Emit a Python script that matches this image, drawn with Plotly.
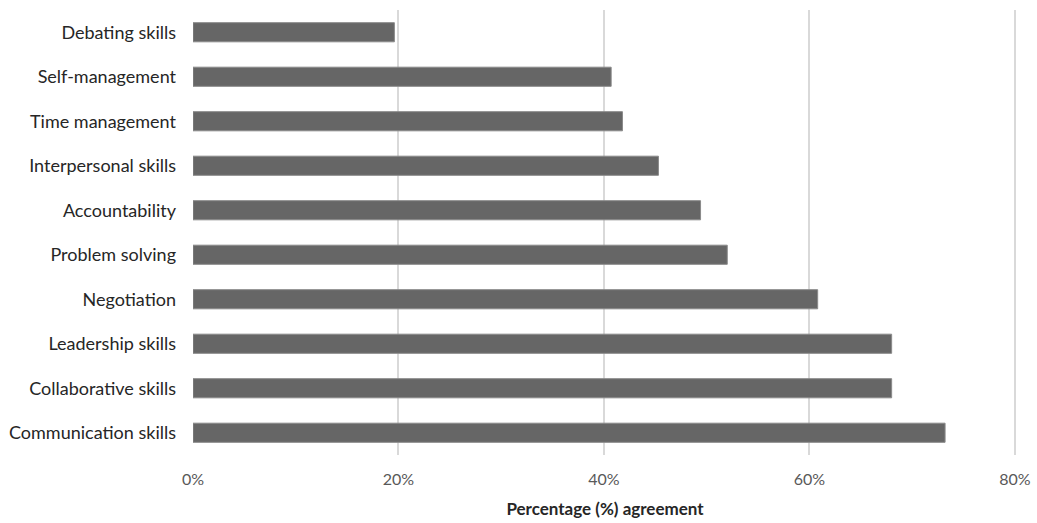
import plotly.graph_objects as go

categories = ["Communication skills", "Collaborative skills", "Leadership skills", "Negotiation",
              "Problem solving", "Accountability", "Interpersonal skills", "Time management",
              "Self-management", "Debating skills"]
values = [73.2, 68.0, 68.0, 60.8, 52.0, 49.4, 45.3, 41.8, 40.7, 19.6]
tick_vals = [0, 20, 40, 60, 80]
tick_text = ["0%", "20%", "40%", "60%", "80%"]

fig = go.Figure(go.Bar(
    x=values, y=categories, orientation="h",
    marker=dict(color="#666666", line=dict(color="#8a8a8a", width=1)),
    width=0.43,
))

fig.update_layout(
    width=1037, height=523,
    margin=dict(l=193, r=20, t=10, b=68),
    plot_bgcolor="white", paper_bgcolor="white",
    font=dict(family="Lato, Open Sans, sans-serif", size=18, color="#262626"),
    showlegend=False,
    bargap=0.57,
)
fig.update_xaxes(
    range=[0, 80.2], tickvals=tick_vals, ticktext=tick_text,
    showgrid=True, gridcolor="#d9d9d9", gridwidth=1.5,
    zeroline=False, showline=False, automargin=False,
    tickfont=dict(size=16, color="#595959"),
    ticklabelstandoff=13,
    title=dict(text="<b>Percentage (%) agreement</b>", font=dict(size=17, color="#262626"), standoff=16),
)
fig.update_yaxes(
    showgrid=False, zeroline=False, showline=False, automargin=False,
    tickfont=dict(size=18, color="#262626"),
    ticklabelstandoff=16,
    categoryorder="array", categoryarray=categories,
)
fig.write_html("out.html")
